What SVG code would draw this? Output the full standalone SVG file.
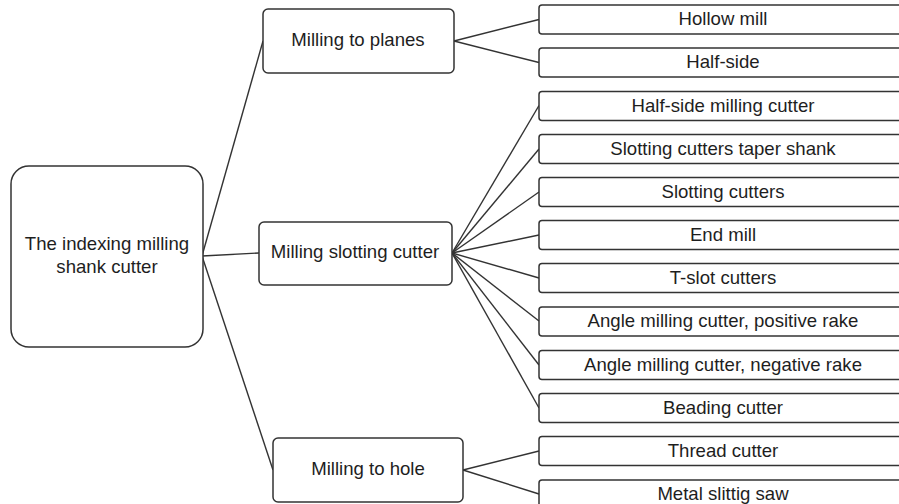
<svg xmlns="http://www.w3.org/2000/svg" width="899" height="504" viewBox="0 0 899 504">
<style>
.box{fill:#fff;stroke:#333;stroke-width:1.5}
.ln{fill:none;stroke:#333;stroke-width:1.4}
text{font-family:"Liberation Sans",Arial,sans-serif;font-size:18.6px;fill:#1e1e1e;text-anchor:middle}
</style>
<rect width="899" height="504" fill="#fff"/>
<g id="connectors">
<line class="ln" x1="202" y1="256" x2="263" y2="41"/>
<line class="ln" x1="202" y1="256" x2="259" y2="253"/>
<line class="ln" x1="202" y1="256" x2="273" y2="470"/>
<line class="ln" x1="454" y1="41" x2="539" y2="19.5"/>
<line class="ln" x1="454" y1="41" x2="539" y2="62.5"/>
<line class="ln" x1="452" y1="253" x2="539" y2="105.5"/>
<line class="ln" x1="452" y1="253" x2="539" y2="149"/>
<line class="ln" x1="452" y1="253" x2="539" y2="192"/>
<line class="ln" x1="452" y1="253" x2="539" y2="235"/>
<line class="ln" x1="452" y1="253" x2="539" y2="278"/>
<line class="ln" x1="452" y1="253" x2="539" y2="321"/>
<line class="ln" x1="452" y1="253" x2="539" y2="365"/>
<line class="ln" x1="452" y1="253" x2="539" y2="408"/>
<line class="ln" x1="463" y1="470" x2="539" y2="451"/>
<line class="ln" x1="463" y1="470" x2="539" y2="494"/>
</g>
<g id="root">
<rect class="box" x="11" y="166" width="192" height="181" rx="18"/>
<text x="107" y="250">The indexing milling</text>
<text x="107" y="273">shank cutter</text>
</g>
<g id="planes">
<rect class="box" x="263" y="9" width="191" height="64" rx="5"/>
<text x="358" y="46">Milling to planes</text>
</g>
<g id="slotting">
<rect class="box" x="259" y="222" width="193" height="63" rx="5"/>
<text x="355" y="258">Milling slotting cutter</text>
</g>
<g id="hole">
<rect class="box" x="273" y="438" width="190" height="64" rx="5"/>
<text x="368" y="475">Milling to hole</text>
</g>
<g id="hollow-mill"><rect class="box" x="539" y="5" width="368" height="29" rx="3"/><text x="723" y="25">Hollow mill</text></g>
<g id="half-side"><rect class="box" x="539" y="48" width="368" height="29" rx="3"/><text x="723" y="68">Half-side</text></g>
<g id="half-side-milling"><rect class="box" x="539" y="91.5" width="368" height="29" rx="3"/><text x="723" y="111.5">Half-side milling cutter</text></g>
<g id="slotting-taper"><rect class="box" x="539" y="134.5" width="368" height="29" rx="3"/><text x="723" y="154.5">Slotting cutters taper shank</text></g>
<g id="slotting-cutters"><rect class="box" x="539" y="177.5" width="368" height="29" rx="3"/><text x="723" y="197.5">Slotting cutters</text></g>
<g id="end-mill"><rect class="box" x="539" y="220.5" width="368" height="29" rx="3"/><text x="723" y="240.5">End mill</text></g>
<g id="t-slot"><rect class="box" x="539" y="263.5" width="368" height="29" rx="3"/><text x="723" y="283.5">T-slot cutters</text></g>
<g id="angle-positive"><rect class="box" x="539" y="307" width="368" height="29" rx="3"/><text x="723" y="327">Angle milling cutter, positive rake</text></g>
<g id="angle-negative"><rect class="box" x="539" y="350.5" width="368" height="29" rx="3"/><text x="723" y="370.5">Angle milling cutter, negative rake</text></g>
<g id="beading"><rect class="box" x="539" y="393.5" width="368" height="29" rx="3"/><text x="723" y="413.5">Beading cutter</text></g>
<g id="thread"><rect class="box" x="539" y="436.5" width="368" height="29" rx="3"/><text x="723" y="456.5">Thread cutter</text></g>
<g id="metal-saw"><rect class="box" x="539" y="480" width="368" height="29" rx="3"/><text x="723" y="500">Metal slittig saw</text></g>
</svg>
